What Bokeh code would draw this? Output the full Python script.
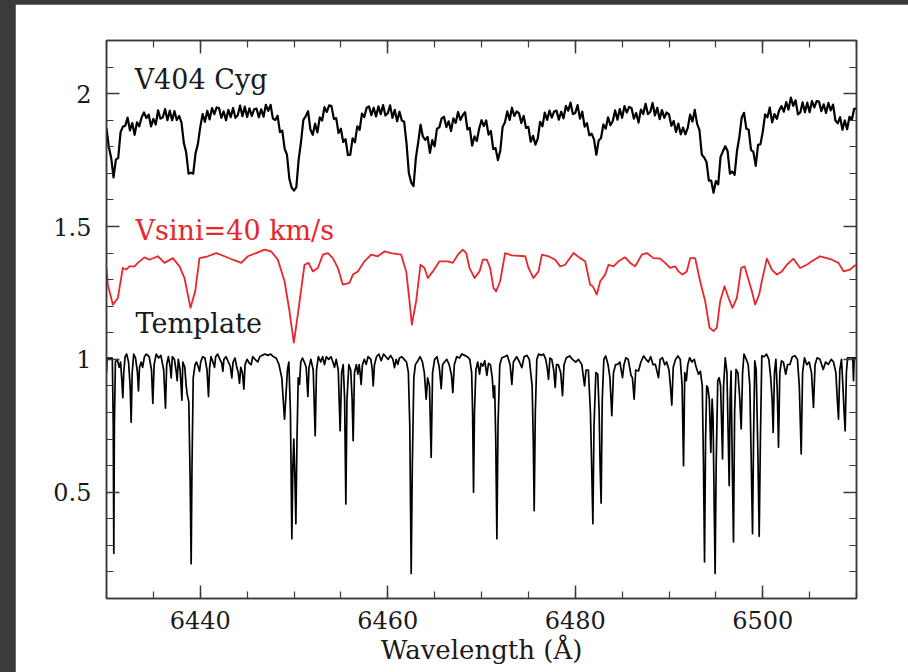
import numpy as np
from bokeh.plotting import figure
from bokeh.models import Range1d, LinearAxis, SingleIntervalTicker, Label
from bokeh.layouts import column
from bokeh.embed import file_html
from bokeh.resources import INLINE

# ---------------------------------------------------------------- data
# V404 Cyg spectrum, sampled every 0.25 A from 6430 to 6510 A
v404_start, v404_step = 6430.0, 0.25
v404_flux = [
    1.870, 1.799, 1.758, 1.685, 1.752, 1.758, 1.855, 1.876,
    1.879, 1.910, 1.862, 1.889, 1.845, 1.892, 1.877, 1.911,
    1.929, 1.908, 1.921, 1.877, 1.905, 1.884, 1.937, 1.906,
    1.910, 1.942, 1.900, 1.936, 1.900, 1.934, 1.901, 1.916,
    1.891, 1.814, 1.779, 1.699, 1.702, 1.699, 1.776, 1.811,
    1.874, 1.923, 1.894, 1.935, 1.903, 1.946, 1.923, 1.948,
    1.946, 1.909, 1.933, 1.900, 1.939, 1.911, 1.946, 1.909,
    1.919, 1.955, 1.915, 1.951, 1.912, 1.945, 1.916, 1.941,
    1.944, 1.911, 1.941, 1.913, 1.958, 1.935, 1.958, 1.906,
    1.901, 1.917, 1.855, 1.861, 1.793, 1.770, 1.681, 1.646,
    1.635, 1.648, 1.753, 1.819, 1.901, 1.915, 1.934, 1.865,
    1.845, 1.887, 1.854, 1.911, 1.899, 1.949, 1.931, 1.956,
    1.953, 1.905, 1.908, 1.852, 1.868, 1.818, 1.829, 1.769,
    1.770, 1.832, 1.817, 1.877, 1.864, 1.925, 1.912, 1.947,
    1.952, 1.919, 1.947, 1.914, 1.952, 1.923, 1.957, 1.918,
    1.926, 1.956, 1.909, 1.939, 1.896, 1.932, 1.899, 1.894,
    1.814, 1.701, 1.666, 1.652, 1.758, 1.817, 1.883, 1.838,
    1.826, 1.837, 1.777, 1.825, 1.802, 1.868, 1.873, 1.907,
    1.913, 1.874, 1.896, 1.859, 1.907, 1.890, 1.931, 1.901,
    1.919, 1.930, 1.865, 1.871, 1.804, 1.839, 1.822, 1.868,
    1.900, 1.878, 1.899, 1.846, 1.860, 1.791, 1.795, 1.750,
    1.784, 1.874, 1.892, 1.933, 1.901, 1.947, 1.916, 1.933,
    1.926, 1.890, 1.916, 1.871, 1.875, 1.819, 1.841, 1.808,
    1.831, 1.894, 1.877, 1.929, 1.901, 1.936, 1.910, 1.933,
    1.936, 1.902, 1.932, 1.907, 1.954, 1.936, 1.966, 1.923,
    1.927, 1.957, 1.906, 1.932, 1.876, 1.889, 1.843, 1.849,
    1.828, 1.770, 1.824, 1.833, 1.884, 1.868, 1.911, 1.881,
    1.897, 1.937, 1.902, 1.942, 1.909, 1.953, 1.929, 1.950,
    1.946, 1.906, 1.927, 1.891, 1.940, 1.923, 1.962, 1.923,
    1.931, 1.965, 1.918, 1.947, 1.904, 1.938, 1.909, 1.929,
    1.922, 1.879, 1.897, 1.856, 1.887, 1.847, 1.872, 1.847,
    1.871, 1.921, 1.895, 1.939, 1.886, 1.863, 1.770, 1.760,
    1.743, 1.673, 1.673, 1.627, 1.671, 1.659, 1.762, 1.783,
    1.802, 1.784, 1.699, 1.707, 1.694, 1.784, 1.836, 1.909,
    1.928, 1.868, 1.864, 1.788, 1.781, 1.728, 1.807, 1.809,
    1.856, 1.922, 1.911, 1.948, 1.892, 1.923, 1.905, 1.937,
    1.953, 1.932, 1.968, 1.940, 1.985, 1.954, 1.975, 1.922,
    1.929, 1.967, 1.930, 1.966, 1.930, 1.972, 1.948, 1.972,
    1.970, 1.934, 1.960, 1.927, 1.965, 1.937, 1.959, 1.899,
    1.888, 1.912, 1.864, 1.899, 1.866, 1.913, 1.901, 1.943,
    1.944,
]

# template broadened to vsini = 40 km/s (wavelength, flux)
vsini_points = [
    (6430.00, 1.344), (6430.14, 1.281), (6430.68, 1.206), (6431.21, 1.231),
    (6431.74, 1.344), (6432.10, 1.338), (6432.45, 1.350), (6432.99, 1.350),
    (6433.34, 1.363), (6434.05, 1.384), (6434.59, 1.375), (6435.48, 1.388),
    (6436.19, 1.363), (6437.08, 1.381), (6437.79, 1.350), (6438.32, 1.306),
    (6438.96, 1.194), (6439.46, 1.256), (6439.92, 1.381), (6440.81, 1.388),
    (6441.70, 1.400), (6442.59, 1.388), (6443.48, 1.375), (6444.37, 1.363),
    (6445.08, 1.388), (6445.96, 1.400), (6446.85, 1.413), (6447.57, 1.406),
    (6448.28, 1.375), (6448.99, 1.294), (6449.52, 1.181), (6449.98, 1.063),
    (6450.41, 1.169), (6451.12, 1.356), (6451.55, 1.363), (6452.01, 1.331),
    (6452.54, 1.344), (6453.08, 1.394), (6453.61, 1.400), (6454.14, 1.381),
    (6454.68, 1.344), (6455.21, 1.281), (6455.92, 1.288), (6456.28, 1.319),
    (6456.81, 1.331), (6457.52, 1.369), (6458.23, 1.394), (6458.94, 1.388),
    (6459.65, 1.406), (6460.36, 1.400), (6461.43, 1.394), (6461.97, 1.331),
    (6462.32, 1.219), (6462.57, 1.131), (6463.03, 1.219), (6463.49, 1.356),
    (6463.92, 1.344), (6464.28, 1.306), (6464.81, 1.331), (6465.52, 1.369),
    (6466.41, 1.369), (6466.94, 1.363), (6467.48, 1.394), (6468.01, 1.413),
    (6468.37, 1.400), (6468.72, 1.344), (6469.26, 1.306), (6469.79, 1.331),
    (6470.14, 1.375), (6470.57, 1.375), (6470.92, 1.344), (6471.28, 1.269),
    (6471.56, 1.256), (6471.99, 1.294), (6472.52, 1.400), (6473.24, 1.391),
    (6474.66, 1.388), (6475.01, 1.344), (6475.55, 1.306), (6476.08, 1.331),
    (6476.44, 1.394), (6477.15, 1.388), (6477.86, 1.375), (6478.39, 1.350),
    (6478.92, 1.356), (6479.81, 1.400), (6480.52, 1.381), (6481.06, 1.369),
    (6481.59, 1.281), (6481.88, 1.275), (6482.30, 1.244), (6482.66, 1.294),
    (6483.19, 1.319), (6483.55, 1.356), (6484.08, 1.350), (6484.61, 1.369),
    (6485.32, 1.384), (6485.86, 1.363), (6486.39, 1.350), (6487.10, 1.394),
    (6487.64, 1.400), (6488.35, 1.381), (6489.06, 1.379), (6489.59, 1.363),
    (6490.12, 1.344), (6490.66, 1.350), (6491.01, 1.331), (6491.44, 1.319),
    (6491.90, 1.331), (6492.26, 1.381), (6492.79, 1.381), (6493.32, 1.294),
    (6493.86, 1.219), (6494.32, 1.119), (6494.75, 1.106), (6495.10, 1.119),
    (6495.46, 1.219), (6495.92, 1.275), (6496.35, 1.231), (6496.77, 1.194),
    (6497.24, 1.231), (6497.70, 1.344), (6498.06, 1.350), (6498.48, 1.300),
    (6498.84, 1.256), (6499.19, 1.206), (6499.62, 1.244), (6499.90, 1.294),
    (6500.44, 1.379), (6500.97, 1.338), (6501.50, 1.319), (6502.04, 1.331),
    (6502.57, 1.356), (6503.28, 1.379), (6503.99, 1.344), (6504.70, 1.356),
    (6505.24, 1.369), (6506.12, 1.388), (6506.84, 1.381), (6507.37, 1.375),
    (6508.08, 1.363), (6508.61, 1.331), (6509.32, 1.338), (6509.86, 1.354),
    (6510.00, 1.354),
]

# unbroadened template star (wavelength, flux)
template_points = [
    (6430.00, 0.950), (6430.06, 1.005), (6430.62, 1.005), (6430.72, 0.750),
    (6430.78, 0.270), (6430.84, 0.750), (6430.95, 0.990), (6431.15, 1.000),
    (6431.35, 0.970), (6431.50, 0.990), (6431.64, 0.920), (6431.74, 0.856),
    (6431.84, 0.950), (6431.98, 1.010), (6432.15, 1.020), (6432.35, 0.990),
    (6432.52, 0.900), (6432.63, 0.763), (6432.74, 0.950), (6432.90, 1.020),
    (6433.10, 1.005), (6433.30, 0.950), (6433.41, 0.881), (6433.52, 0.970),
    (6433.70, 0.990), (6433.85, 0.970), (6434.05, 1.010), (6434.25, 1.020),
    (6434.55, 1.010), (6434.80, 0.960), (6434.94, 0.834), (6435.08, 0.980),
    (6435.30, 1.020), (6435.55, 1.005), (6435.80, 1.015), (6436.10, 0.960),
    (6436.29, 0.816), (6436.42, 0.980), (6436.60, 1.010), (6436.80, 0.970),
    (6436.90, 0.930), (6437.02, 1.010), (6437.25, 1.000), (6437.45, 0.950),
    (6437.54, 0.920), (6437.66, 1.000), (6437.85, 0.960), (6437.96, 0.900),
    (6438.04, 0.846), (6438.14, 0.990), (6438.35, 0.970), (6438.50, 0.900),
    (6438.60, 0.870), (6438.78, 0.840), (6438.92, 0.550), (6439.03, 0.231),
    (6439.12, 0.600), (6439.25, 0.930), (6439.45, 0.980), (6439.60, 0.990),
    (6439.80, 0.970), (6439.92, 0.955), (6440.05, 0.990), (6440.25, 1.010),
    (6440.50, 1.005), (6440.72, 0.960), (6440.88, 0.860), (6441.00, 0.970),
    (6441.15, 1.010), (6441.35, 0.990), (6441.52, 0.970), (6441.65, 1.010),
    (6441.85, 1.020), (6442.10, 1.000), (6442.30, 0.985), (6442.41, 0.955),
    (6442.52, 1.000), (6442.75, 1.010), (6443.00, 0.990), (6443.20, 0.975),
    (6443.37, 0.930), (6443.50, 0.990), (6443.70, 1.005), (6443.90, 0.970),
    (6444.05, 0.950), (6444.19, 0.910), (6444.32, 0.970), (6444.50, 0.950),
    (6444.65, 0.888), (6444.78, 0.980), (6445.00, 1.000), (6445.25, 0.985),
    (6445.43, 0.980), (6445.60, 1.010), (6445.85, 1.000), (6446.14, 0.990),
    (6446.35, 1.010), (6446.60, 1.015), (6446.90, 1.020), (6447.20, 1.015),
    (6447.50, 1.020), (6447.80, 1.010), (6448.10, 1.005), (6448.40, 0.980),
    (6448.70, 0.930), (6448.90, 0.820), (6448.99, 0.775), (6449.10, 0.840),
    (6449.30, 0.960), (6449.45, 0.990), (6449.62, 0.800), (6449.77, 0.325),
    (6449.88, 0.600), (6449.98, 0.700), (6450.10, 0.550), (6450.20, 0.381),
    (6450.32, 0.700), (6450.45, 0.930), (6450.59, 0.906), (6450.72, 0.990),
    (6450.90, 1.005), (6451.10, 0.990), (6451.30, 0.970), (6451.48, 0.860),
    (6451.60, 0.970), (6451.80, 1.000), (6452.05, 0.960), (6452.26, 0.713),
    (6452.40, 0.960), (6452.60, 1.010), (6452.85, 0.990), (6453.05, 1.010),
    (6453.25, 0.980), (6453.45, 1.010), (6453.70, 1.000), (6453.95, 1.010),
    (6454.15, 0.990), (6454.32, 0.970), (6454.50, 1.000), (6454.72, 0.960),
    (6454.92, 0.731), (6455.08, 0.950), (6455.25, 0.980), (6455.40, 0.850),
    (6455.53, 0.456), (6455.65, 0.850), (6455.85, 0.980), (6456.05, 0.960),
    (6456.20, 0.850), (6456.31, 0.694), (6456.45, 0.950), (6456.65, 0.980),
    (6456.81, 0.944), (6456.95, 0.980), (6457.05, 0.950), (6457.16, 0.906),
    (6457.30, 0.980), (6457.50, 1.000), (6457.70, 0.981), (6457.90, 1.010),
    (6458.20, 1.000), (6458.35, 0.960), (6458.45, 0.900), (6458.58, 0.980),
    (6458.80, 1.010), (6459.05, 1.020), (6459.30, 0.995), (6459.55, 1.020),
    (6459.80, 1.010), (6460.05, 1.000), (6460.30, 1.015), (6460.55, 1.000),
    (6460.72, 0.969), (6460.90, 1.000), (6461.08, 0.981), (6461.25, 1.005),
    (6461.50, 1.010), (6461.75, 1.000), (6462.00, 0.990), (6462.20, 0.950),
    (6462.35, 0.750), (6462.50, 0.194), (6462.62, 0.600), (6462.78, 0.930),
    (6462.95, 0.980), (6463.21, 0.995), (6463.45, 1.010), (6463.70, 0.990),
    (6463.90, 0.950), (6464.10, 0.850), (6464.25, 0.930), (6464.45, 0.900),
    (6464.63, 0.631), (6464.78, 0.950), (6465.00, 1.000), (6465.25, 1.010),
    (6465.50, 0.970), (6465.70, 0.890), (6465.85, 0.980), (6466.05, 0.990),
    (6466.30, 1.000), (6466.55, 0.980), (6466.80, 0.940), (6466.94, 0.875),
    (6467.10, 0.980), (6467.35, 1.010), (6467.65, 1.005), (6467.90, 1.020),
    (6468.20, 1.015), (6468.50, 1.010), (6468.75, 1.000), (6468.95, 0.950),
    (6469.05, 0.800), (6469.15, 0.500), (6469.25, 0.800), (6469.40, 0.960),
    (6469.60, 0.990), (6469.79, 0.944), (6469.95, 0.985), (6470.15, 0.975),
    (6470.35, 0.995), (6470.57, 0.940), (6470.75, 0.985), (6470.95, 0.980),
    (6471.15, 0.930), (6471.28, 0.856), (6471.40, 0.900), (6471.52, 0.700),
    (6471.64, 0.325), (6471.76, 0.750), (6471.95, 0.980), (6472.17, 1.006),
    (6472.45, 1.010), (6472.75, 1.015), (6473.05, 0.980), (6473.24, 0.906),
    (6473.40, 0.990), (6473.75, 1.010), (6474.05, 0.990), (6474.30, 0.969),
    (6474.55, 1.010), (6474.85, 1.015), (6475.10, 1.000), (6475.40, 0.900),
    (6475.52, 0.700), (6475.62, 0.431), (6475.74, 0.800), (6475.90, 1.000),
    (6476.10, 1.020), (6476.40, 1.015), (6476.62, 1.020), (6476.85, 1.000),
    (6477.00, 0.970), (6477.15, 0.925), (6477.30, 1.005), (6477.50, 1.000),
    (6477.70, 0.960), (6477.86, 0.894), (6478.00, 0.980), (6478.20, 0.980),
    (6478.45, 0.950), (6478.64, 0.863), (6478.80, 0.980), (6479.05, 1.006),
    (6479.40, 1.013), (6479.70, 1.000), (6480.05, 0.990), (6480.35, 1.000),
    (6480.70, 0.980), (6480.88, 0.930), (6480.99, 0.900), (6481.15, 0.960),
    (6481.40, 0.960), (6481.62, 0.800), (6481.75, 0.600), (6481.88, 0.381),
    (6482.00, 0.750), (6482.20, 0.950), (6482.40, 0.944), (6482.55, 0.800),
    (6482.65, 0.600), (6482.76, 0.459), (6482.88, 0.850), (6483.05, 1.000),
    (6483.25, 1.013), (6483.50, 0.980), (6483.70, 0.930), (6483.90, 0.788),
    (6484.08, 0.950), (6484.30, 0.980), (6484.50, 0.981), (6484.75, 0.990),
    (6485.04, 0.931), (6485.20, 0.980), (6485.40, 1.006), (6485.65, 1.000),
    (6485.95, 0.940), (6486.10, 0.930), (6486.28, 0.850), (6486.45, 0.960),
    (6486.75, 0.956), (6487.00, 0.990), (6487.30, 1.013), (6487.55, 1.000),
    (6487.80, 0.990), (6488.05, 1.010), (6488.30, 0.980), (6488.55, 0.981),
    (6488.75, 0.950), (6488.88, 0.931), (6489.05, 1.000), (6489.30, 1.006),
    (6489.55, 0.980), (6489.75, 0.990), (6490.00, 0.960), (6490.15, 0.900),
    (6490.30, 0.828), (6490.45, 0.970), (6490.70, 1.000), (6490.95, 1.013),
    (6491.20, 1.000), (6491.40, 0.900), (6491.55, 0.600), (6491.68, 0.950),
    (6491.85, 0.920), (6492.00, 0.980), (6492.20, 1.006), (6492.45, 0.990),
    (6492.70, 1.000), (6492.90, 0.970), (6493.15, 0.944), (6493.35, 0.955),
    (6493.55, 0.900), (6493.68, 0.600), (6493.79, 0.238), (6493.90, 0.700),
    (6494.02, 0.900), (6494.14, 0.894), (6494.30, 0.850), (6494.46, 0.650),
    (6494.60, 0.850), (6494.70, 0.780), (6494.82, 0.450), (6494.92, 0.194),
    (6495.03, 0.600), (6495.20, 0.920), (6495.35, 0.931), (6495.50, 0.900),
    (6495.62, 0.750), (6495.71, 0.625), (6495.82, 0.900), (6496.00, 1.006),
    (6496.18, 0.950), (6496.32, 0.700), (6496.42, 0.525), (6496.52, 0.850),
    (6496.62, 0.956), (6496.75, 0.600), (6496.88, 0.313), (6497.00, 0.800),
    (6497.15, 0.962), (6497.35, 0.950), (6497.55, 0.850), (6497.70, 0.738),
    (6497.85, 0.950), (6498.00, 1.020), (6498.25, 1.000), (6498.45, 0.980),
    (6498.62, 0.900), (6498.78, 0.600), (6498.91, 0.344), (6499.02, 0.700),
    (6499.15, 0.994), (6499.30, 0.960), (6499.48, 0.650), (6499.62, 0.334),
    (6499.75, 0.700), (6499.90, 1.013), (6500.15, 1.010), (6500.40, 1.020),
    (6500.65, 1.000), (6500.85, 0.930), (6501.00, 0.850), (6501.11, 0.725),
    (6501.25, 0.950), (6501.40, 1.000), (6501.55, 0.880), (6501.68, 0.669),
    (6501.82, 0.950), (6502.00, 0.994), (6502.20, 0.990), (6502.45, 0.944),
    (6502.65, 0.980), (6502.90, 0.981), (6503.15, 1.010), (6503.45, 1.013),
    (6503.70, 1.000), (6503.90, 0.900), (6504.10, 0.644), (6504.25, 0.950),
    (6504.45, 1.006), (6504.70, 0.980), (6504.95, 0.990), (6505.20, 0.950),
    (6505.41, 0.819), (6505.58, 0.980), (6505.80, 1.006), (6506.10, 1.000),
    (6506.45, 0.962), (6506.70, 0.990), (6507.00, 0.981), (6507.30, 1.000),
    (6507.55, 0.990), (6507.80, 0.950), (6507.95, 0.850), (6508.08, 0.775),
    (6508.22, 0.960), (6508.40, 1.000), (6508.55, 0.900), (6508.68, 0.800),
    (6508.79, 0.731), (6508.92, 0.950), (6509.05, 1.006), (6509.60, 1.006),
    (6509.68, 0.920), (6509.75, 1.006), (6510.00, 1.006),
]

v404_wl = v404_start + v404_step * np.arange(len(v404_flux))
vsini_wl, vsini_flux = zip(*vsini_points)
template_wl, template_flux = zip(*template_points)

# ---------------------------------------------------------------- figure
FONT = "DejaVu Serif"
AXIS_COLOR = "#3a3a3a"
TEXT_COLOR = "#1a1a1a"
RED = "#e8262c"

p = figure(
    width=893, height=668,
    x_range=Range1d(6430, 6510), y_range=Range1d(0.1, 2.2),
    output_backend="svg", toolbar_location=None,
    min_border_left=91, min_border_right=52,
    min_border_top=36, min_border_bottom=74,
    background_fill_color="white", border_fill_color="white",
)
p.margin = (4, 0, 0, 15)
p.outline_line_color = AXIS_COLOR
p.outline_line_width = 1.5
p.xgrid.visible = False
p.ygrid.visible = False


def style_axis(ax, show_labels):
    ax.axis_line_color = AXIS_COLOR
    ax.axis_line_width = 1.5
    ax.major_tick_line_color = AXIS_COLOR
    ax.minor_tick_line_color = AXIS_COLOR
    ax.major_tick_line_width = 1.5
    ax.minor_tick_line_width = 1.2
    ax.major_tick_in = 13
    ax.major_tick_out = 0
    ax.minor_tick_in = 7
    ax.minor_tick_out = 0
    ax.major_label_text_font = FONT
    ax.major_label_text_font_size = "24px"
    ax.major_label_text_color = TEXT_COLOR if show_labels else None


xaxis = p.xaxis[0]
yaxis = p.yaxis[0]
xaxis.ticker = SingleIntervalTicker(interval=20, num_minor_ticks=4)
yaxis.ticker = SingleIntervalTicker(interval=0.5, num_minor_ticks=5)
style_axis(xaxis, True)
style_axis(yaxis, True)
xaxis.major_label_standoff = 12
yaxis.major_label_standoff = 15
yaxis.major_label_overrides = {0.5: "0.5", 1.0: "1", 1.5: "1.5", 2.0: "2"}
xaxis.axis_label = "Wavelength (Å)"
xaxis.axis_label_text_font = FONT
xaxis.axis_label_text_font_size = "26px"
xaxis.axis_label_text_font_style = "normal"
xaxis.axis_label_text_color = TEXT_COLOR
xaxis.axis_label_standoff = 3

# mirrored ticks on the top and right edges, no numbers there
top_axis = LinearAxis(ticker=SingleIntervalTicker(interval=20, num_minor_ticks=4))
right_axis = LinearAxis(ticker=SingleIntervalTicker(interval=0.5, num_minor_ticks=5))
style_axis(top_axis, False)
style_axis(right_axis, False)
p.add_layout(top_axis, "above")
p.add_layout(right_axis, "right")

# spectra
p.line(v404_wl, v404_flux, line_color="black", line_width=2.2,
       line_join="round")
p.line(list(vsini_wl), list(vsini_flux), line_color=RED, line_width=1.8,
       line_join="round")
p.line(list(template_wl), list(template_flux), line_color="black",
       line_width=1.7, line_join="round")

# spectrum names
for text, x, y, color in [
    ("V404 Cyg", 6433.0, 2.054, TEXT_COLOR),
    ("Vsini=40 km/s", 6433.1, 1.484, RED),
    ("Template", 6433.1, 1.135, TEXT_COLOR),
]:
    p.add_layout(Label(x=x, y=y, text=text, text_font=FONT,
                       text_font_size="27px", text_color=color,
                       text_baseline="alphabetic", text_align="left"))

root = column(p, styles={"background-color": "#3b3b3b"})

open("out.html", "w").write(file_html(root, INLINE))
